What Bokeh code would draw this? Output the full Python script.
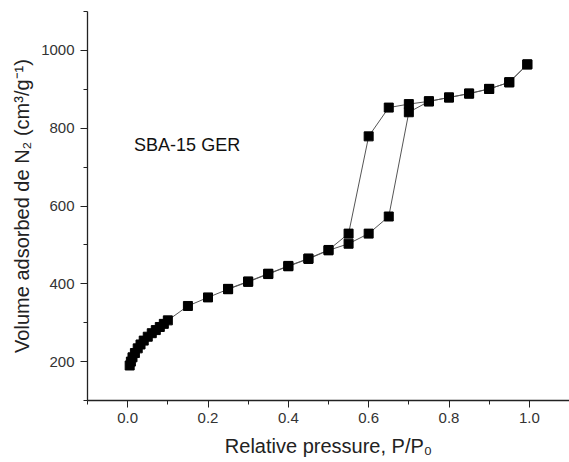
from bokeh.plotting import figure
from bokeh.models import SingleIntervalTicker, PrintfTickFormatter, Range1d
from bokeh.core.properties import value
from bokeh.embed import file_html
from bokeh.resources import INLINE

# Adsorption branch
ads_p = [0.005, 0.008, 0.012, 0.018, 0.025, 0.032, 0.04, 0.05, 0.06, 0.07, 0.08, 0.09, 0.10,
         0.15, 0.20, 0.25, 0.30, 0.35, 0.40, 0.45, 0.50, 0.55, 0.60, 0.65, 0.70,
         0.75, 0.80, 0.85, 0.90, 0.95, 0.995]
ads_v = [190, 200, 211, 222, 234, 244, 254, 264, 273, 281, 289, 297, 306,
         343, 365, 386, 405, 425, 445, 464, 486, 503, 529, 573, 841,
         869, 879, 889, 901, 918, 964]
# Desorption branch
des_p = [0.995, 0.95, 0.90, 0.85, 0.80, 0.75, 0.70, 0.65, 0.60, 0.55, 0.50, 0.45, 0.40, 0.35, 0.30, 0.25]
des_v = [964, 918, 901, 889, 879, 869, 862, 853, 779, 529, 487, 465, 446, 426, 406, 387]

sample_label = "SBA-15 GER"
x_title = "Relative pressure, P/P\u2080"
y_title = "Volume adsorbed de N\u2082 (cm\u00b3/g\u207b\u00b9)"

FONT = "Liberation Sans"

p = figure(width=569, height=462, output_backend="svg", toolbar_location=None,
           x_range=Range1d(-0.1, 1.1), y_range=Range1d(100, 1100),
           min_border_left=87, min_border_right=0, min_border_top=11, min_border_bottom=62)
p.outline_line_color = None
p.xgrid.visible = False
p.ygrid.visible = False
p.background_fill_color = "white"
p.border_fill_color = "white"

for r_p, r_v in ((ads_p, ads_v), (des_p, des_v)):
    p.line(r_p, r_v, line_color="#555555", line_width=1)
for r_p, r_v in ((ads_p, ads_v), (des_p, des_v)):
    p.scatter(r_p, r_v, marker="square", size=9, fill_color="black", line_color="black")

p.text(x=[0.016], y=[757], text=[sample_label], text_font=value(FONT),
       text_font_size="18px", text_color="#111111", text_baseline="middle", text_align="left")

p.xaxis.ticker = SingleIntervalTicker(interval=0.2, num_minor_ticks=2)
p.yaxis.ticker = SingleIntervalTicker(interval=200, num_minor_ticks=2)
p.xaxis.formatter = PrintfTickFormatter(format="%.1f")
p.yaxis.formatter = PrintfTickFormatter(format="%d")

for ax in (p.xaxis, p.yaxis):
    ax.axis_line_color = "#222222"
    ax.axis_line_width = 1.3
    ax.major_tick_line_color = "#222222"
    ax.minor_tick_line_color = "#222222"
    ax.major_tick_out = 7
    ax.major_tick_in = 0
    ax.minor_tick_out = 4
    ax.minor_tick_in = 0
    ax.major_label_text_font = FONT
    ax.major_label_text_font_size = "15px"
    ax.major_label_text_color = "#333333"
    ax.axis_label_text_font = FONT
    ax.axis_label_text_font_size = "20px"
    ax.axis_label_text_font_style = "normal"
    ax.axis_label_text_color = "#222222"

p.xaxis.axis_label = x_title
p.yaxis.axis_label = y_title
p.xaxis.major_label_standoff = 5
p.yaxis.major_label_standoff = 6
p.xaxis.axis_label_standoff = 9
p.yaxis.axis_label_standoff = 5

open("out.html", "w").write(file_html(p, INLINE))
